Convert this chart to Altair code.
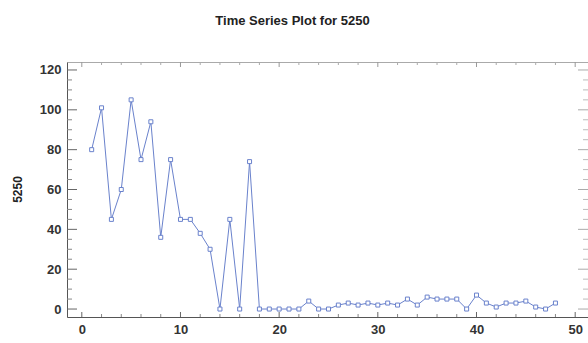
import altair as alt
import pandas as pd

# Data
periods = list(range(1, 49))
values = [80, 101, 45, 60, 105, 75, 94, 36, 75, 45,
          45, 38, 30, 0, 45, 0, 74, 0, 0, 0,
          0, 0, 4, 0, 0, 2, 3, 2, 3, 2,
          3, 2, 5, 2, 6, 5, 5, 5, 0, 7,
          3, 1, 3, 3, 4, 1, 0, 3]

x_major = [0, 10, 20, 30, 40, 50]
x_minor = [v for v in range(0, 52, 2) if v % 10 != 0]
y_major = [0, 20, 40, 60, 80, 100, 120]
y_minor = [v for v in range(0, 125, 5) if v % 20 != 0]

df = pd.DataFrame({"t": periods, "v": values})

W, H = 521, 255
XDOM = [-1.5, 51.3]
YDOM = [-4, 124]
LINE = "#6a82cc"
TICK = "#666666"

xs = alt.Scale(domain=XDOM, nice=False, zero=False)
ys = alt.Scale(domain=YDOM, nice=False, zero=False)

base = alt.Chart(df)

line = base.mark_line(
    color=LINE, strokeWidth=1,
    point=alt.OverlayMarkDef(shape="square", filled=False, size=16,
                             color=LINE, strokeWidth=1, fill="white")
).encode(
    x=alt.X("t:Q", scale=xs,
            axis=alt.Axis(values=x_major, title=None, ticks=False,
                          domain=True, domainColor="#555555", grid=False,
                          labelFont="Liberation Sans", labelFontSize=13,
                          labelFontWeight="bold", labelColor="#333333",
                          labelPadding=6, orient="bottom")),
    y=alt.Y("v:Q", scale=ys,
            axis=alt.Axis(values=y_major, title="5250", ticks=False,
                          domain=True, domainColor="#555555", grid=False,
                          labelFont="Liberation Sans", labelFontSize=13,
                          labelFontWeight="bold", labelColor="#333333",
                          labelPadding=6, orient="left",
                          titleFont="Liberation Sans", titleFontSize=12,
                          titleFontWeight="bold", titleColor="#222222",
                          titleX=-50, titleY=127, titleAngle=270,
                          titleBaseline="middle", titleAlign="center")),
)

# top frame line via a top axis with no labels
top_axis = alt.Chart(pd.DataFrame({"t": [0]})).mark_point(opacity=0).encode(
    x=alt.X("t:Q", scale=xs,
            axis=alt.Axis(orient="top", labels=False, ticks=False, title=None,
                          domain=True, domainColor="#aaaaaa", grid=False)),
)

yM = pd.DataFrame({"y": y_major})
ym = pd.DataFrame({"y": y_minor})
xM = pd.DataFrame({"x": x_major})
xm = pd.DataFrame({"x": x_minor})

def yticks(d, x0, x1, color):
    return alt.Chart(d).mark_rule(color=color, strokeWidth=1).encode(
        y=alt.Y("y:Q", scale=ys, axis=None), x=alt.value(x0), x2=alt.value(x1))

def xticks(d, y0, y1, color):
    return alt.Chart(d).mark_rule(color=color, strokeWidth=1).encode(
        x=alt.X("x:Q", scale=xs, axis=None), y=alt.value(y0), y2=alt.value(y1))

ticks = [
    yticks(yM, 0, 10, TICK), yticks(ym, 0, 5, "#888888"),
    yticks(yM, W - 10, W, "#aaaaaa"), yticks(ym, W - 5, W, "#bbbbbb"),
    xticks(xM, H, H - 5, TICK), xticks(xm, H, H - 3, "#888888"),
    xticks(xM, 0, 5, "#999999"), xticks(xm, 0, 3, "#aaaaaa"),
]

chart = alt.layer(line, top_axis, *ticks).resolve_axis(
    x="independent", y="independent"
).properties(
    width=W, height=H,
    title=alt.TitleParams("Time Series Plot for 5250", font="Liberation Sans",
                          fontSize=13, fontWeight="bold", color="#222222",
                          anchor="middle", dx=-35, offset=34),
    autosize=alt.AutoSizeParams(type="none"),
    padding={"left": 67, "top": 62, "right": 0, "bottom": 26},
).configure_view(stroke=None).configure(background="white")

chart.save("out.html", embed_options={"renderer": "svg", "actions": False})
